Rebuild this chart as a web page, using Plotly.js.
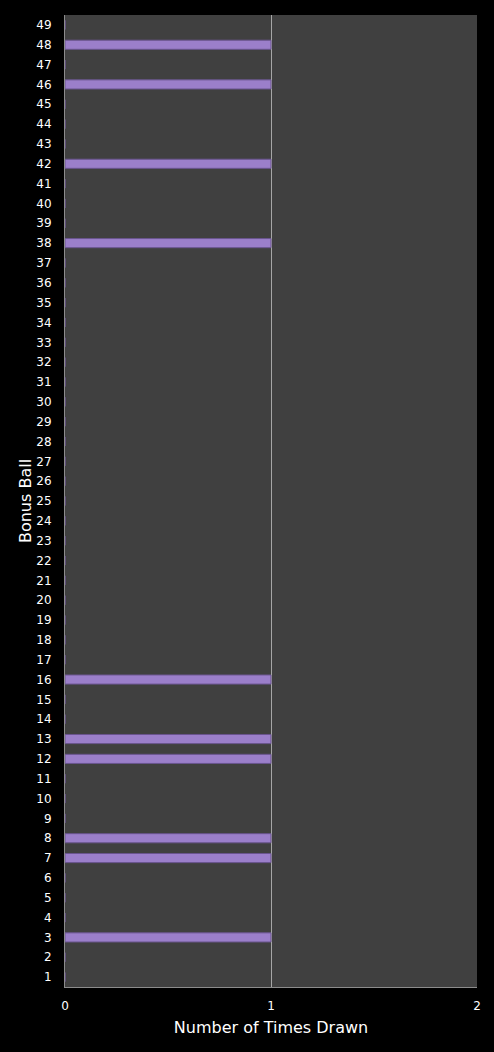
<!DOCTYPE html>
<html>
<head>
<meta charset="utf-8">
<script src="https://cdn.plot.ly/plotly-3.0.1.min.js"></script>
<style>
  html, body { margin: 0; padding: 0; background: #000; }
  #chart { width: 494px; height: 1052px; }
</style>
</head>
<body>
<div id="chart"></div>
<script>
// bonus ball numbers 1..49
var balls = ["1","2","3","4","5","6","7","8","9","10","11","12","13","14","15","16","17",
  "18","19","20","21","22","23","24","25","26","27","28","29","30","31","32","33",
  "34","35","36","37","38","39","40","41","42","43","44","45","46","47","48","49"];
// times drawn for each ball
var timesDrawn = [0,0,1,0,0,0,1,1,0,0,0,1,1,0,0,1,0,
  0,0,0,0,0,0,0,0,0,0,0,0,0,0,0,0,
  0,0,0,0,1,0,0,0,1,0,0,0,1,0,1,0];
var xTicks = [0, 1, 2];

var data = [{
  type: "bar",
  orientation: "h",
  y: balls,
  x: timesDrawn,
  width: 0.46,
  marker: { color: "#9b7fca", line: { color: "#6a558f", width: 1 } },
  hoverinfo: "x+y"
}];

var layout = {
  width: 494,
  height: 1052,
  paper_bgcolor: "#000000",
  plot_bgcolor: "#404040",
  margin: { l: 65, r: 17, t: 15, b: 65, pad: 0 },
  font: { family: "DejaVu Sans, Verdana, sans-serif", color: "#ffffff", size: 12 },
  showlegend: false,
  xaxis: {
    range: [0, 2],
    tickvals: xTicks,
    ticktext: xTicks.map(String),
    showgrid: true,
    gridcolor: "#a6a6a6",
    gridwidth: 1,
    zeroline: false,
    showline: true,
    linecolor: "#8c8c8c",
    linewidth: 1,
    ticks: "",
    ticklabelstandoff: 8,
    tickfont: { size: 12, color: "#ffffff" },
    title: { text: "Number of Times Drawn", font: { size: 16, color: "#ffffff" }, standoff: 9 },
    fixedrange: true
  },
  yaxis: {
    type: "category",
    categoryorder: "array",
    categoryarray: balls,
    range: [-0.5, 48.5],
    showgrid: false,
    zeroline: false,
    showline: true,
    linecolor: "#8c8c8c",
    linewidth: 1,
    ticks: "",
    tickfont: { size: 12, color: "#ffffff" },
    ticklabelstandoff: 10,
    title: { text: "Bonus Ball", font: { size: 16, color: "#ffffff" }, standoff: 0 },
    fixedrange: true
  }
};

Plotly.newPlot("chart", data, layout, { displayModeBar: false, staticPlot: true });
</script>
</body>
</html>
